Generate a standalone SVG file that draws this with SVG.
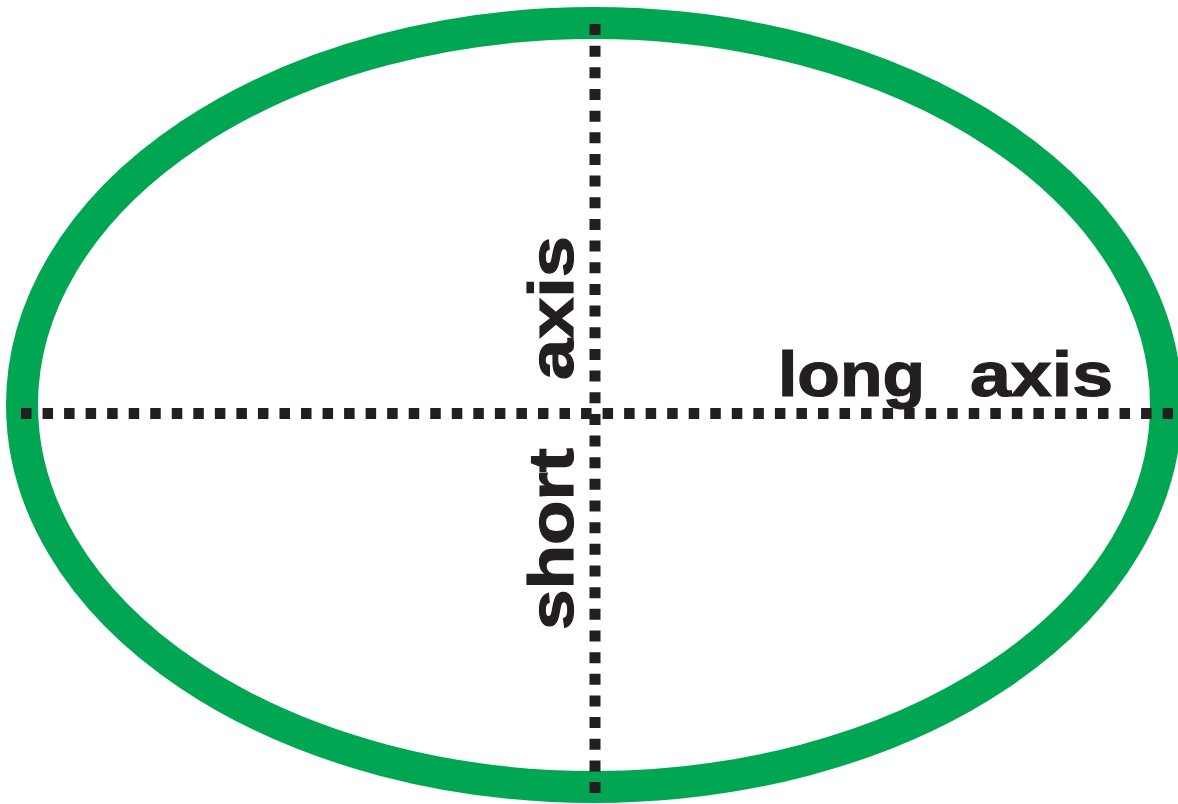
<svg xmlns="http://www.w3.org/2000/svg" width="1178" height="804" viewBox="0 0 1178 804">
<style>
.lbl{font-family:"Liberation Sans",Arial,sans-serif;font-weight:bold;font-size:63px;fill:#231F20;stroke:#231F20;stroke-width:1.2}
.dot{stroke:#231F20;stroke-width:11;fill:none}
</style>
<rect width="1178" height="804" fill="#ffffff"/>
<g id="ellipse">
<ellipse cx="594" cy="405" rx="572" ry="382" fill="none" stroke="#00A651" stroke-width="32"/>
</g>
<g id="axes">
<line class="dot" x1="21" y1="413.5" x2="1173" y2="413.5" stroke-dasharray="10.5 11.04"/>
<line class="dot" x1="595" y1="24" x2="595" y2="793" stroke-dasharray="11 10.66"/>
</g>
<g id="long-axis-label">
<text class="lbl" x="778" y="396" textLength="147" lengthAdjust="spacingAndGlyphs">long</text>
<text class="lbl" x="970" y="396" textLength="143" lengthAdjust="spacingAndGlyphs">axis</text>
</g>
<g id="short-axis-label">
<text class="lbl" transform="translate(573,630) rotate(-90)" x="0" y="0" textLength="182" lengthAdjust="spacingAndGlyphs">short</text>
<text class="lbl" transform="translate(573,380) rotate(-90)" x="0" y="0" textLength="144" lengthAdjust="spacingAndGlyphs">axis</text>
</g>
</svg>
